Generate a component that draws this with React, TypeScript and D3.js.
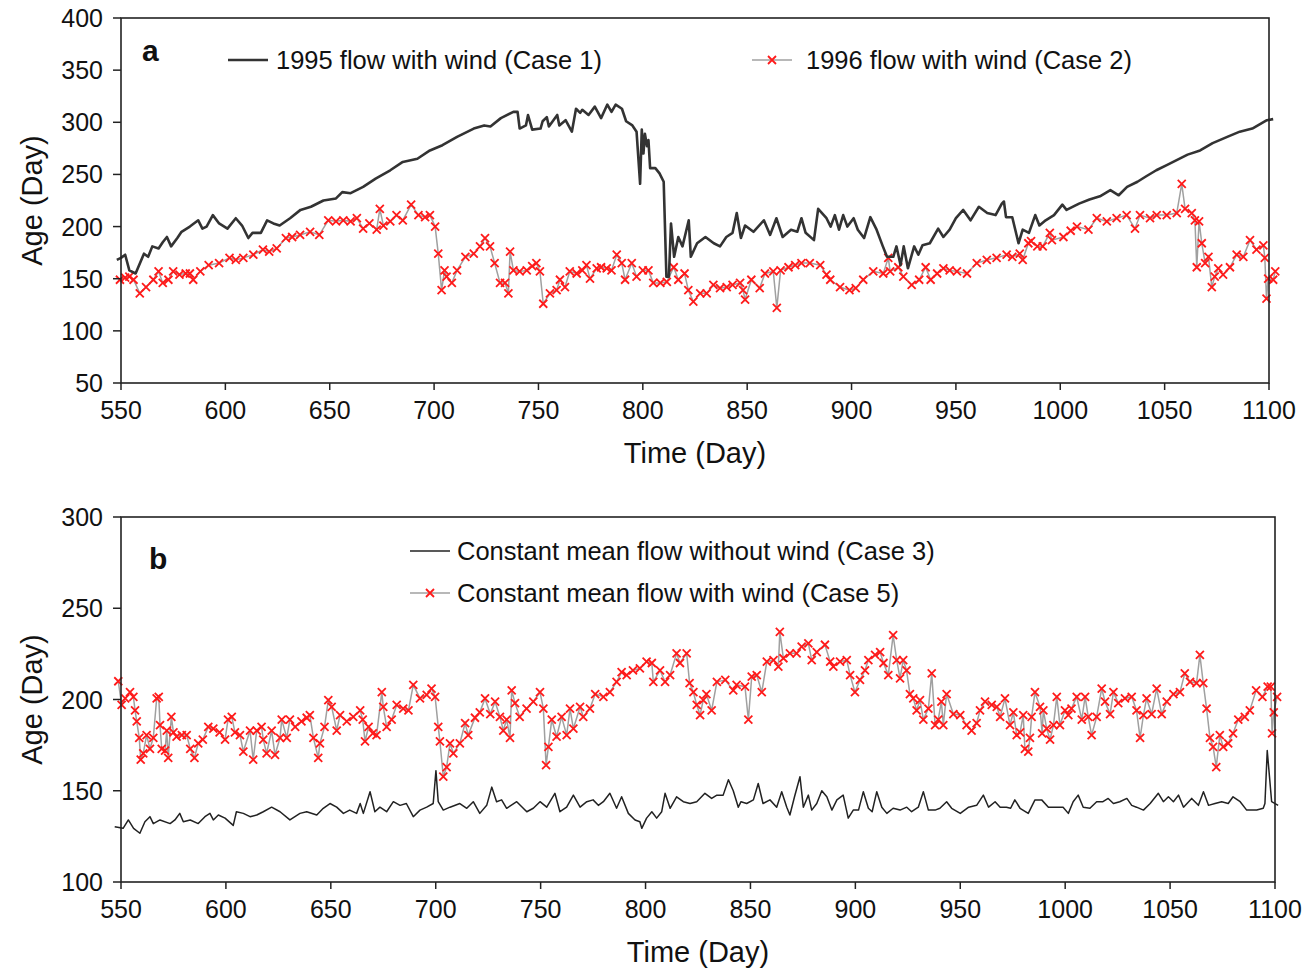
import React from "react";
import * as d3 from "d3";

// ---- Data (day, age) ----
const case1: [number, number][] = [
  [548,168],[550,170],[552,173],[554,158],[557,155],[561,174],[563,171],[565,181],[568,179],[570,185],[572,190],[574,181],[577,189],[579,195],[583,200],[587,206],[589,198],[591,200],[594,211],[597,203],[601,198],[605,208],[608,201],[611,189],[613,194],[617,194],[620,206],[623,203],[626,201],[631,208],[636,216],[641,219],[647,225],[653,227],[656,233],[660,232],[666,238],[672,246],[679,254],[685,262],[692,265],[698,273],[704,278],[711,286],[719,294],[724,297],[727,296],[732,304],[738,310],[740,310],[741,294],[744,297],[745,307],[747,293],[751,294],[752,301],[754,305],[755,296],[759,307],[760,297],[763,302],[766,291],[768,313],[770,309],[771,312],[774,307],[777,315],[780,304],[783,317],[785,310],[787,317],[790,313],[792,301],[795,297],[797,291],[798.7,241],[799.5,293],[800.3,270],[801,289],[802,277],[802.7,283],[803.5,256],[806,256],[808,251],[810,243],[811.3,152],[812.5,152],[813.5,203],[815,171],[817,190],[819,181],[822,206],[823,171],[826,184],[830,190],[834,184],[837,181],[840,190],[843,194],[845,213],[847,189],[849,201],[853,195],[858,206],[861,192],[864,208],[867,190],[871,197],[874,195],[876,208],[878,194],[882,187],[884,217],[888,208],[890,200],[892,211],[894,197],[896,211],[898,200],[901,208],[903,197],[906,189],[909,209],[912,197],[915,181],[917,171],[920,171],[921.5,181],[923.5,163],[925,181],[927,160],[930,181],[932,173],[934,182],[937.5,184],[941.5,198],[944,190],[947,197],[950,208],[953.5,216],[957,206],[961,219],[965,213],[969,211],[972,222],[973,224],[974,209],[977,209],[980,184],[982,197],[985,194],[988,211],[990,201],[993,206],[997,211],[1001,221],[1003,216],[1009,222],[1014,226],[1019,229],[1024,235],[1028,230],[1032,238],[1037,243],[1041,248],[1046,254],[1051,259],[1056,264],[1061,269],[1067,273],[1073,280],[1080,286],[1086,291],[1092,294],[1099,302],[1102,303],
];

const case2: [number, number][] = [
  [549.5,149],[552,151],[554,152],[556,149],[559,136],[562,142],[565.5,149],[568,157],[570,146],[572.7,149],[575,157],[578,154],[581,155],[583,155],[584.6,149],[588,157],[592,163],[597,165],[602,170],[605,168],[608.6,170],[613.4,173],[618,178],[621,176],[624.6,179],[629,189],[632,190],[635.8,192],[640.6,195],[645,192],[649.3,206],[653,205],[656.5,206],[660,205],[663,208],[666,198],[669,203],[672.5,197],[674,217],[675.7,201],[679,205],[682,211],[685,206],[689,221],[692.5,211],[695.7,209],[698,211],[700.5,200],[702,174],[703.6,139],[705,158],[706,152],[708.5,146],[711,158],[715,171],[719,174],[722,181],[724.4,189],[726.8,181],[729,165],[731.6,146],[734,146],[735.6,136],[736.4,176],[738,158],[741,157],[744.4,158],[747,162],[749,165],[750.7,157],[752.3,126],[755.5,136],[758.7,139],[760.3,149],[762.7,142],[765,157],[768.3,155],[771,158],[773,163],[774.7,150],[777.9,160],[780,161],[782.7,160],[785,158],[787.5,173],[789.9,165],[791.5,149],[794.7,165],[797,152],[800,158],[802.7,158],[805,146],[808.4,146],[811.5,147],[814.8,161],[817,149],[820,155],[821.8,139],[824.2,128],[827.5,136],[830.6,136],[833.8,144],[837,141],[840.2,142],[843,144],[846.6,146],[848,139],[849,130],[852,149],[856,141],[858.5,155],[862.5,157],[864.2,122],[866,158],[869.8,161],[873,163],[876,165],[880,165],[885,163],[888,154],[889.8,149],[894.5,142],[899,139],[902,141],[905.6,149],[910.4,157],[915.2,155],[917.6,170],[918.5,157],[922.4,161],[924.8,152],[928.8,144],[932.4,149],[935.5,161],[937.9,149],[941,155],[944,160],[947,158],[950.5,157],[955.3,155],[960,165],[964.8,168],[969.5,170],[974.3,173],[977,171],[980.6,174],[982,168],[984.7,184],[986,186],[989,181],[991.6,181],[995,194],[996,187],[1001.5,190],[1005,196],[1008,200],[1013.5,197],[1017.5,208],[1022.3,205],[1027,208],[1031.8,211],[1035.8,198],[1038.2,211],[1043,208],[1046.2,211],[1051,211],[1055.8,213],[1058.2,241],[1059.8,217],[1063,213],[1064.5,206],[1065.4,161],[1066.5,205],[1067.8,184],[1069.4,165],[1071,171],[1072.6,142],[1074,152],[1075.7,160],[1078,154],[1081.3,161],[1084.5,173],[1087.7,171],[1090.9,187],[1094,178],[1097.3,182],[1098,170],[1098.8,131],[1099.6,150],[1102,149],[1103,157],
];

const case3: [number, number][] = [
  [547,130.3],[551,129.4],[553.5,134],[556,129.4],[559,126.7],[561.4,133],[563.8,135.8],[565.4,132],[568.6,134],[573.4,132],[575.7,134],[578,137.6],[579.7,133],[583,134],[586.8,132],[590,135.8],[592.4,137.6],[594,134],[596.4,136.7],[599.6,135],[603.5,131],[605,138.5],[608.3,137.6],[611.5,135.8],[614.7,136.7],[617.8,138.5],[621.8,141],[625.8,138.5],[630.5,134],[635.3,137.6],[638.5,138.5],[643.3,136.7],[646.4,140.4],[649.6,143],[652.8,141],[656,137.6],[659,139.4],[662.3,137.6],[664,143],[665.5,137.6],[668.7,149.5],[671,138.5],[673.4,141],[676.6,138.5],[679.8,144],[683,142],[686,143],[689.3,135.8],[692.5,139.4],[695.7,141],[698.8,143],[700.1,161],[701.2,144],[703.6,139.4],[706.8,141],[711.5,143],[714.8,140.4],[717.9,144],[721,137.6],[724.3,142],[726.7,152],[729,144],[731.4,145],[733.8,140.4],[738.6,144],[743.4,138.5],[746.5,140.4],[749.7,144],[752.9,141],[756.8,148.6],[759.2,138.5],[762.4,141],[765.6,147.6],[768.8,141],[772,144],[775,145],[777.5,142],[779.9,144],[783,148.6],[786.2,140.4],[788.6,146.7],[791.8,137.6],[795,134],[797.3,133],[798.2,129.4],[800.5,135],[803,138.5],[805.3,135],[807.7,138.5],[809.3,148.6],[811.7,140.4],[814.8,146.7],[818,144],[821.2,143],[824.4,144],[828.3,148.6],[831.5,145.8],[834,147.6],[837,147.6],[839.5,156],[841.8,150],[844.2,141],[845.5,144],[848.2,143],[851.4,145],[853.7,154],[856,143],[859.3,145],[862.5,141],[864.9,149.5],[867.3,141],[868.8,136.7],[871,146.7],[873.6,157.7],[875.2,141],[877.6,147.6],[879.2,139.4],[881.6,143],[884,150],[886.4,146.7],[888.8,139.4],[891.2,145],[894.2,147.6],[896.6,135],[899,139.4],[901.5,139.4],[903.8,149.5],[906.2,140.4],[908,138.5],[910.2,149.5],[912.6,141],[915,137.6],[918,140.4],[921.3,139.4],[924.5,141],[926.8,138.5],[930,141],[932.4,149.5],[934.8,139.4],[938,139.4],[940.3,140.4],[943.5,144],[945.9,140.4],[950,137.6],[954,141],[957.8,142],[961,147.6],[963.5,141],[966.6,144],[969,141],[972,141],[974,140.4],[976,145],[978.5,140.4],[982.4,137.6],[985.6,145],[988.8,145],[992,141],[996,141],[999,141],[1001.5,137.6],[1003.8,144],[1006.2,147.6],[1008.6,141],[1011.8,140.4],[1015,144],[1018,144],[1020.5,145.8],[1023,143],[1026,144],[1029.4,145.8],[1031.7,142],[1034,141],[1037.3,139.4],[1040.5,143],[1044.4,148.6],[1046.8,144],[1049.2,146.7],[1051.6,144],[1054,147.6],[1056.4,141],[1060.3,145.8],[1063.5,142],[1065.9,149.5],[1068.3,142],[1071.4,143],[1074.6,144],[1077.7,143],[1080,146.7],[1083.4,144],[1086.5,139.4],[1091.3,139.4],[1094.4,140.4],[1095.2,143],[1096.3,172],[1098.4,144],[1101.5,142],
];

const case5: [number, number][] = [
  [548.7,210],[550.3,197],[552,200.6],[554.3,204],[555.9,201.5],[556.7,194],[557.5,188],[558.7,179],[559.4,167],[560.6,170.5],[562.2,180.5],[563.8,173],[565.4,179],[567,200.6],[568,201.5],[568.6,186],[569.4,173],[571,172],[571.8,183],[572.5,168],[574,190.5],[575,182],[576.5,179.6],[579,180.5],[581.3,180.5],[583,173],[585,168],[586.8,176],[589,178],[591.6,185],[594,184],[597,182],[599.6,178],[601,189],[602.8,190.5],[604.3,182],[606.7,180.5],[608.3,171.5],[611.5,183],[613,167],[614.7,183],[617,185],[617.8,178],[619.4,170.5],[621.8,183],[623.4,169.6],[625.8,179],[626.6,189],[629,179],[630.5,189],[633,185],[636,188],[638.5,190],[640,191.5],[641.7,179],[644,168],[644.8,176],[647,185],[648.8,199.7],[650.4,196],[652.8,183],[654.4,191.5],[657.6,188],[660.7,190.5],[664,194],[665.2,189],[666.3,177],[668,185],[670,181.5],[671.8,180.5],[674.3,204],[675,196],[676.6,185],[679,189],[681.4,197],[684.5,195],[687,194],[689.3,208],[692.5,200.6],[695.7,202.5],[698,206],[699.7,201.5],[701.2,185],[702,177],[703.6,157.7],[705.2,163],[706.8,176],[708.4,170.5],[711.5,176],[714,187],[715.5,180.5],[718.7,190],[721,193],[723.5,200.6],[726,192],[728.3,198.8],[730.6,190.5],[732.2,183],[733.8,189],[735.4,179],[736.2,205],[737.8,198],[740,190.5],[743.3,195],[746.5,198.8],[749.7,204],[751.3,195],[752.6,164],[753.7,174],[755.3,189],[757.6,179.6],[760,190.5],[762.4,180.5],[764,195],[765.6,184],[768.8,196],[770.3,190.5],[773.5,195],[776,203],[779.9,201.5],[783,204],[786.2,209.7],[788.6,215],[791,213.4],[794,216],[797.3,217],[800.5,220.7],[803,220],[803.7,209.7],[806.9,216],[809.3,209.7],[811.7,213.4],[814.8,225.3],[816.4,220],[819.6,225.3],[821,209],[822.8,204],[824.4,197],[826,191.5],[827.5,199.7],[829,203],[831.5,194],[834,209.7],[838,210.7],[841.8,205],[843.4,208],[847.4,207],[849,189],[850.6,212.5],[853,213.4],[855.4,204],[857.8,220.7],[861,221.6],[863.3,218],[864,237],[865.7,222.6],[868.8,225.3],[872,225.3],[874.4,229],[877.6,230.8],[879.2,221.6],[881.6,226],[885.5,230],[888,220.7],[889.5,218],[892.7,220.7],[895.9,221.6],[897.5,213.4],[899.8,204],[902.2,210.7],[904.6,216],[906.2,221.6],[909.4,224.4],[911.8,226],[913.4,220],[915.7,213.4],[918,235.3],[919.7,221.6],[921.3,211.6],[922.8,221.6],[924.4,216],[926,203],[927.6,200.6],[929.2,194],[930.8,199.7],[932.4,189],[934.8,195],[936.4,214.3],[938,186],[939.5,189],[941,198.8],[941.9,186],[943.5,203],[946.7,192],[950,191.5],[953,186],[955.4,183],[957.8,187],[959.4,194],[961.8,198.8],[965,197],[967.4,196],[969,190.5],[971.3,200.6],[973.7,186],[975.3,193],[976.9,180.5],[978.5,182],[980,191.5],[980.8,173],[982.4,171.5],[983.2,179],[984,190.5],[985.6,204],[988,196],[989,181.5],[989.6,194],[991.2,184],[992.8,178],[994.4,186],[996,201.5],[997.5,186],[999.9,194],[1001.5,191.5],[1003,195],[1005.5,201.5],[1007.9,189],[1009.5,201.5],[1011,190.5],[1012.6,180.5],[1015,190.5],[1017.4,206],[1019,198.8],[1021.4,192],[1023,204],[1025.3,198],[1028.5,200.6],[1031.7,201.5],[1034,194],[1035.7,179],[1037.3,191.5],[1038.8,200.6],[1041.2,192],[1043.6,206],[1046,192],[1048.4,198.8],[1051.6,203],[1054.7,204],[1057,214.3],[1059.5,209.7],[1062.6,209],[1064.2,224.4],[1065.8,209],[1067.4,195],[1069,179],[1070.5,174],[1072,163],[1073.7,180.5],[1075.3,174],[1077.7,176],[1080,181.5],[1082.5,189],[1085.6,190.5],[1088,194],[1091,205],[1094,201.5],[1096.5,207],[1098,207],[1098.6,181.5],[1099.4,193],[1101,201.5],
];

const xTicks = [550, 600, 650, 700, 750, 800, 850, 900, 950, 1000, 1050, 1100];
const yTicksA = [50, 100, 150, 200, 250, 300, 350, 400];
const yTicksB = [100, 150, 200, 250, 300];

const FONT = "'Liberation Sans', Arial, sans-serif";
const TXT = "#111";

const Marker = ({ x, y }: { x: number; y: number }) => (
  <path
    d={`M${x - 4},${y - 4}L${x + 4},${y + 4}M${x - 4},${y + 4}L${x + 4},${y - 4}`}
    stroke="#ff1a1a"
    strokeWidth={1.8}
    fill="none"
  />
);

type PanelProps = {
  left: number; right: number; top: number; bottom: number;
  yDomain: [number, number]; yTicks: number[];
  label: string;
  lineSeries: [number, number][]; lineColor: string; lineWidth: number;
  markSeries: [number, number][];
  legend: React.ReactNode;
};

function Panel(p: PanelProps) {
  const x = d3.scaleLinear().domain([550, 1100]).range([p.left, p.right]);
  const y = d3.scaleLinear().domain(p.yDomain).range([p.bottom, p.top]);
  const line = d3.line<[number, number]>().x((d) => x(d[0])).y((d) => y(d[1]));
  const midX = (p.left + p.right) / 2;
  const midY = (p.top + p.bottom) / 2;
  return (
    <g>
      <path d={line(p.markSeries) || ""} fill="none" stroke="#a0a0a0" strokeWidth={1.5} />
      {p.markSeries.map((d, i) => (
        <Marker key={i} x={x(d[0])} y={y(d[1])} />
      ))}
      <path d={line(p.lineSeries) || ""} fill="none" stroke={p.lineColor} strokeWidth={p.lineWidth} strokeLinejoin="round" />
      {/* frame */}
      <rect x={p.left} y={p.top} width={p.right - p.left} height={p.bottom - p.top} fill="none" stroke="#222" strokeWidth={1.6} />
      {/* y ticks */}
      {p.yTicks.map((t) => (
        <g key={t}>
          <line x1={p.left - 8} x2={p.left} y1={y(t)} y2={y(t)} stroke="#222" strokeWidth={1.5} />
          <text x={p.left - 18} y={y(t) + 9} textAnchor="end" fontSize={25} fontFamily={FONT} fill={TXT}>{t}</text>
        </g>
      ))}
      {/* x ticks */}
      {xTicks.map((t) => (
        <g key={t}>
          <line x1={x(t)} x2={x(t)} y1={p.bottom} y2={p.bottom + 7} stroke="#222" strokeWidth={1.5} />
          <text x={x(t)} y={p.bottom + 36} textAnchor="middle" fontSize={25} fontFamily={FONT} fill={TXT}>{t}</text>
        </g>
      ))}
      <text x={midX} y={p.bottom + 80} textAnchor="middle" fontSize={29} fontFamily={FONT} fill={TXT}>Time (Day)</text>
      <text transform={`translate(42,${midY}) rotate(-90)`} textAnchor="middle" fontSize={29} fontFamily={FONT} fill={TXT}>Age (Day)</text>
      <text x={p.left + (p.label === "a" ? 21 : 28)} y={p.top + (p.label === "a" ? 43 : 52)} fontSize={30} fontWeight="bold" fontFamily={FONT} fill={TXT}>{p.label}</text>
      {p.legend}
    </g>
  );
}

export default function App() {
  const legendA = (
    <g fontFamily={FONT} fontSize={25.5} fill={TXT}>
      <line x1={228} x2={268} y1={60} y2={60} stroke="#333" strokeWidth={2.5} />
      <text x={276} y={69}>1995 flow with wind (Case 1)</text>
      <line x1={752} x2={792} y1={60} y2={60} stroke="#a0a0a0" strokeWidth={1.5} />
      <Marker x={772} y={60} />
      <text x={806} y={69}>1996 flow with wind (Case 2)</text>
    </g>
  );
  const legendB = (
    <g fontFamily={FONT} fontSize={25.5} fill={TXT}>
      <line x1={410} x2={450} y1={551} y2={551} stroke="#222" strokeWidth={1.5} />
      <text x={457} y={560}>Constant mean flow without wind (Case 3)</text>
      <line x1={410} x2={450} y1={593} y2={593} stroke="#a0a0a0" strokeWidth={1.5} />
      <Marker x={430} y={593} />
      <text x={457} y={602}>Constant mean flow with wind (Case 5)</text>
    </g>
  );
  return (
    <svg width={1306} height={968} style={{ position: "absolute", left: 0, top: 0, background: "#fff" }}>
      <rect width={1306} height={968} fill="#fff" />
      <Panel left={121} right={1269} top={18} bottom={383} yDomain={[50, 400]} yTicks={yTicksA} label="a"
        lineSeries={case1} lineColor="#333" lineWidth={2.6} markSeries={case2} legend={legendA} />
      <Panel left={121} right={1275} top={517} bottom={882} yDomain={[100, 300]} yTicks={yTicksB} label="b"
        lineSeries={case3} lineColor="#222" lineWidth={1.5} markSeries={case5} legend={legendB} />
    </svg>
  );
}
